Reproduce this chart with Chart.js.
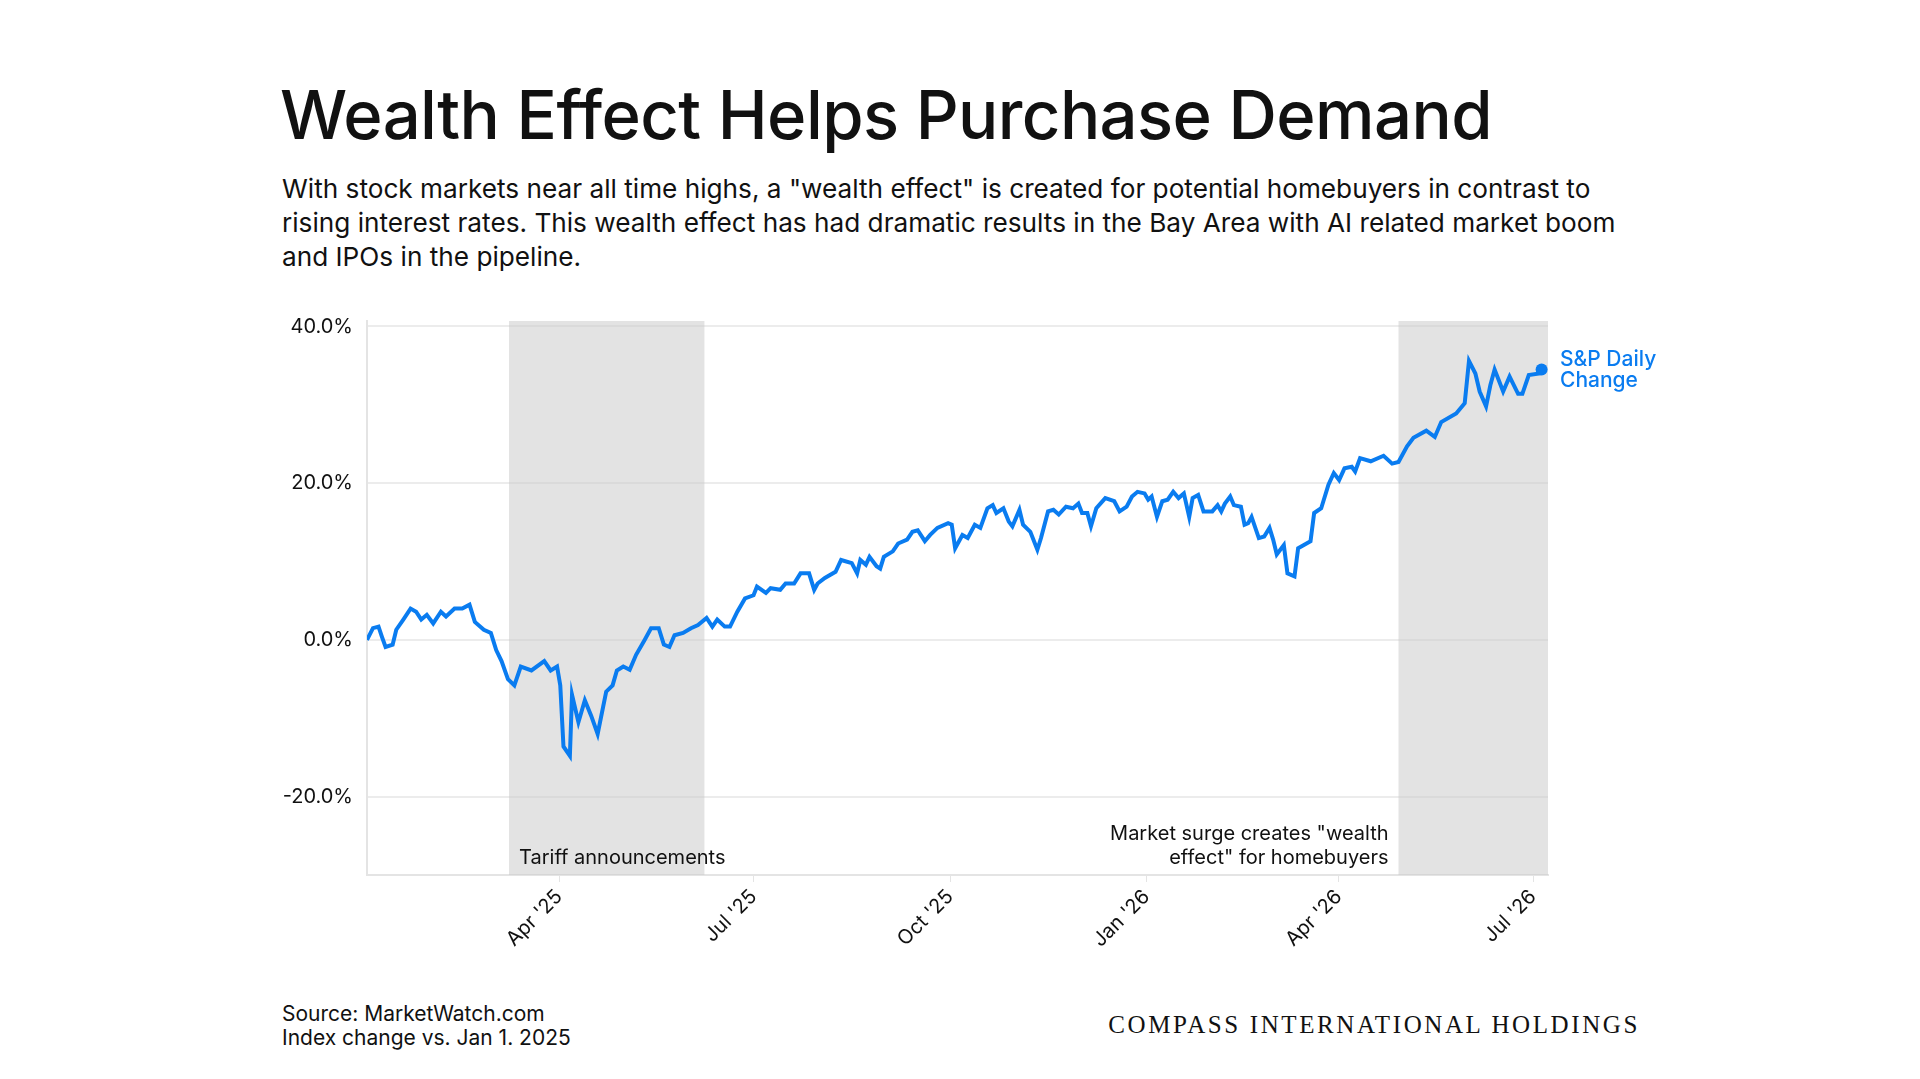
<!DOCTYPE html>
<html><head><meta charset="utf-8">
<script src="https://cdn.jsdelivr.net/npm/chart.js@4.4.1/dist/chart.umd.min.js"></script>
<style>
html,body{margin:0;padding:0;background:#fff;width:1920px;height:1079px;overflow:hidden;font-family:Inter,"Noto Sans",sans-serif;color:#111}
#title{position:absolute;left:280px;top:74px;font-size:67px;font-weight:500;letter-spacing:-0.6px}
#sub{position:absolute;left:282px;top:172px;width:1375px;font-size:26.2px;line-height:34px;font-weight:400}
#wrap{position:absolute;left:250px;top:295px;width:1330px;height:660px}
#lab{position:absolute;left:1560px;top:348px;color:#0a7cf0;font-size:21px;line-height:21px;font-weight:500}
#src{position:absolute;left:282px;top:1002px;font-size:21px;line-height:24px}
#brand{position:absolute;right:280px;top:1011px;font-family:"Liberation Serif",serif;font-size:25px;letter-spacing:2.6px}
</style></head><body>
<div id="title">Wealth Effect Helps Purchase Demand</div>
<div id="sub">With stock markets near all time highs, a "wealth effect" is created for potential homebuyers in contrast to rising interest rates. This wealth effect has had dramatic results in the Bay Area with AI related market boom and IPOs in the pipeline.</div>
<div id="wrap"><canvas id="c"></canvas></div>
<div id="lab">S&amp;P Daily<br>Change</div>
<div id="src">Source: MarketWatch.com<br>Index change vs. Jan 1. 2025</div>
<div id="brand">COMPASS INTERNATIONAL HOLDINGS</div>
<script>
// days since Jan 1 2025
const days = [0,2.8,5.4,7,8.7,12,13.7,17,20.4,23,25.4,28,31,34.6,37,41,44.6,48,50.5,54.7,58,60.5,63,66,69,72,77,83,86,89,90.5,92,95,96,99,102,105,108,112,115,117,120,123,126,130,133,136.6,139,141.6,144,148,151.7,155,159,161.7,164,167.5,170,173.4,177,181,182.6,186.8,189,193.5,196,200,203,207,209.4,211,214.4,219.4,222,227,229.5,231,233.6,235.3,238.6,240.3,242,246.2,248.7,252.9,255.4,257.9,261.2,263.7,267.1,272.1,273.8,275.4,278.8,281.3,284.6,287.2,290.5,293,294.7,298,300.5,302.2,305.5,307.2,310.6,313.9,315.6,318.9,321.4,323.9,327.3,330.6,333.1,334.8,337.3,339,341.5,345.7,349.9,352.4,355.7,358.2,360.8,364.1,365.8,367.4,369.9,372.4,374.9,377.5,380,382.5,385,386.6,389.2,391.7,395.8,398.3,400,401.7,404.2,405.9,409.2,410.9,412.6,414.2,417.6,420.1,422.6,424.3,426,429.3,431,434.3,436,441.8,443.5,446.8,450.2,452.7,455.2,457.7,461.1,462.7,465,470,476,480,483,487,490,496,500,503,510,514,516,519,521,524,526,528,532,535,539,541,544,549,550];
const values = [0,1.5,1.7,0.4,-0.9,-0.6,1.3,2.6,4.0,3.6,2.6,3.2,2.1,3.6,3.0,4.0,4.0,4.5,2.3,1.3,0.9,-1.3,-2.7,-5.0,-5.8,-3.4,-3.9,-2.7,-3.9,-3.4,-5.8,-13.6,-14.8,-7.0,-10.5,-7.7,-9.7,-12.0,-6.6,-5.8,-3.9,-3.4,-3.8,-1.9,0,1.5,1.5,-0.6,-0.9,0.6,0.9,1.5,1.9,2.8,1.7,2.6,1.7,1.7,3.6,5.3,5.7,6.8,6.0,6.6,6.4,7.2,7.2,8.5,8.5,6.4,7.2,7.9,8.7,10.2,9.8,8.5,10.2,9.6,10.6,9.4,9.1,10.6,11.3,12.3,12.8,13.8,14.0,12.6,13.4,14.3,14.9,14.7,11.7,13.4,13.0,14.7,14.3,16.8,17.2,16.2,16.8,15.1,14.5,16.6,14.7,13.8,11.5,13.0,16.4,16.6,16.0,17.0,16.8,17.4,16.2,16.2,14.5,16.8,18.1,17.7,16.4,17.0,18.3,18.9,18.7,17.9,18.3,15.7,17.7,17.9,18.9,18.1,18.7,15.7,18.1,18.5,16.4,16.4,17.2,16.4,17.4,18.3,17.2,17.0,14.7,14.9,15.7,13.0,13.2,14.3,12.8,10.9,12.1,8.5,8.1,11.7,12.6,16.2,16.8,19.8,21.3,20.4,21.9,22.1,21.5,23.2,22.8,23.5,22.5,22.7,24.7,25.8,26.7,25.9,27.8,28.9,30.2,35.6,34.0,31.7,29.8,32.5,34.5,31.7,33.6,31.4,31.4,33.8,34.0,34.5];
const xTickDays = [90,181,273,365,455,546];
const xTickLabels = ["Apr '25","Jul '25","Oct '25","Jan '26","Apr '26","Jul '26"];
const yTicks = [-20,0,20,40];
const shadeRanges = [[66.5,158],[483,553]];
const shadeNotes = [["Tariff announcements"],["Market surge creates \"wealth","effect\" for homebuyers"]];

const pts = days.map((d,i)=>({x:d,y:values[i]}));
const shade = {id:'shade',beforeDatasetsDraw(ch){
  const {ctx,scales:{x,y},chartArea:a}=ch;
  ctx.save();ctx.fillStyle='rgba(200,200,200,0.5)';
  shadeRanges.forEach(r=>{const x0=x.getPixelForValue(r[0]),x1=x.getPixelForValue(Math.min(r[1],x.max));ctx.fillRect(x0,a.top,x1-x0,a.bottom-a.top);});
  ctx.fillStyle='#111';ctx.font='20px Inter, "Noto Sans", sans-serif';
  ctx.textAlign='left';ctx.textBaseline='alphabetic';
  ctx.fillText(shadeNotes[0][0],x.getPixelForValue(shadeRanges[0][0])+10,a.bottom-11);
  ctx.textAlign='right';
  const rx=x.getPixelForValue(shadeRanges[1][0])-10;
  ctx.fillText(shadeNotes[1][0],rx,a.bottom-35);
  ctx.fillText(shadeNotes[1][1],rx,a.bottom-11);
  ctx.restore();}};
new Chart(document.getElementById('c'),{type:'line',
 data:{datasets:[{data:pts,borderColor:'#0a7cf0',borderWidth:4,tension:0,
   pointRadius:pts.map((p,i)=>i===pts.length-1?6:0),pointBackgroundColor:'#0a7cf0',pointBorderWidth:0}]},
 options:{responsive:true,maintainAspectRatio:false,animation:false,
  layout:{padding:{top:12,right:32,left:0,bottom:0}},
  plugins:{legend:{display:false},tooltip:{enabled:false}},
  scales:{
   x:{type:'linear',min:0,max:553,
     afterBuildTicks(s){s.ticks=xTickDays.map(v=>({value:v}));},
     afterFit(s){s.height=80;},
     grid:{drawOnChartArea:false,drawTicks:true,tickLength:7,color:'#e4e4e4'},
     border:{color:'#e4e4e4',width:2},
     ticks:{color:'#111',font:{size:20,family:'Inter'},maxRotation:45,minRotation:45,autoSkip:false,
       callback:(v)=>xTickLabels[xTickDays.indexOf(v)]}},
   y:{min:-30,max:40.7,
     afterBuildTicks(s){s.ticks=yTicks.map(v=>({value:v}));},
     afterFit(s){s.width=117;},
     grid:{color:'#ececec',lineWidth:2,drawTicks:false},
     border:{color:'#e4e4e4',width:2},
     ticks:{color:'#111',padding:14,font:{size:20,family:'Inter'},callback:v=>v.toFixed(1)+'%'}}
  }},plugins:[shade]});
</script></body></html>
